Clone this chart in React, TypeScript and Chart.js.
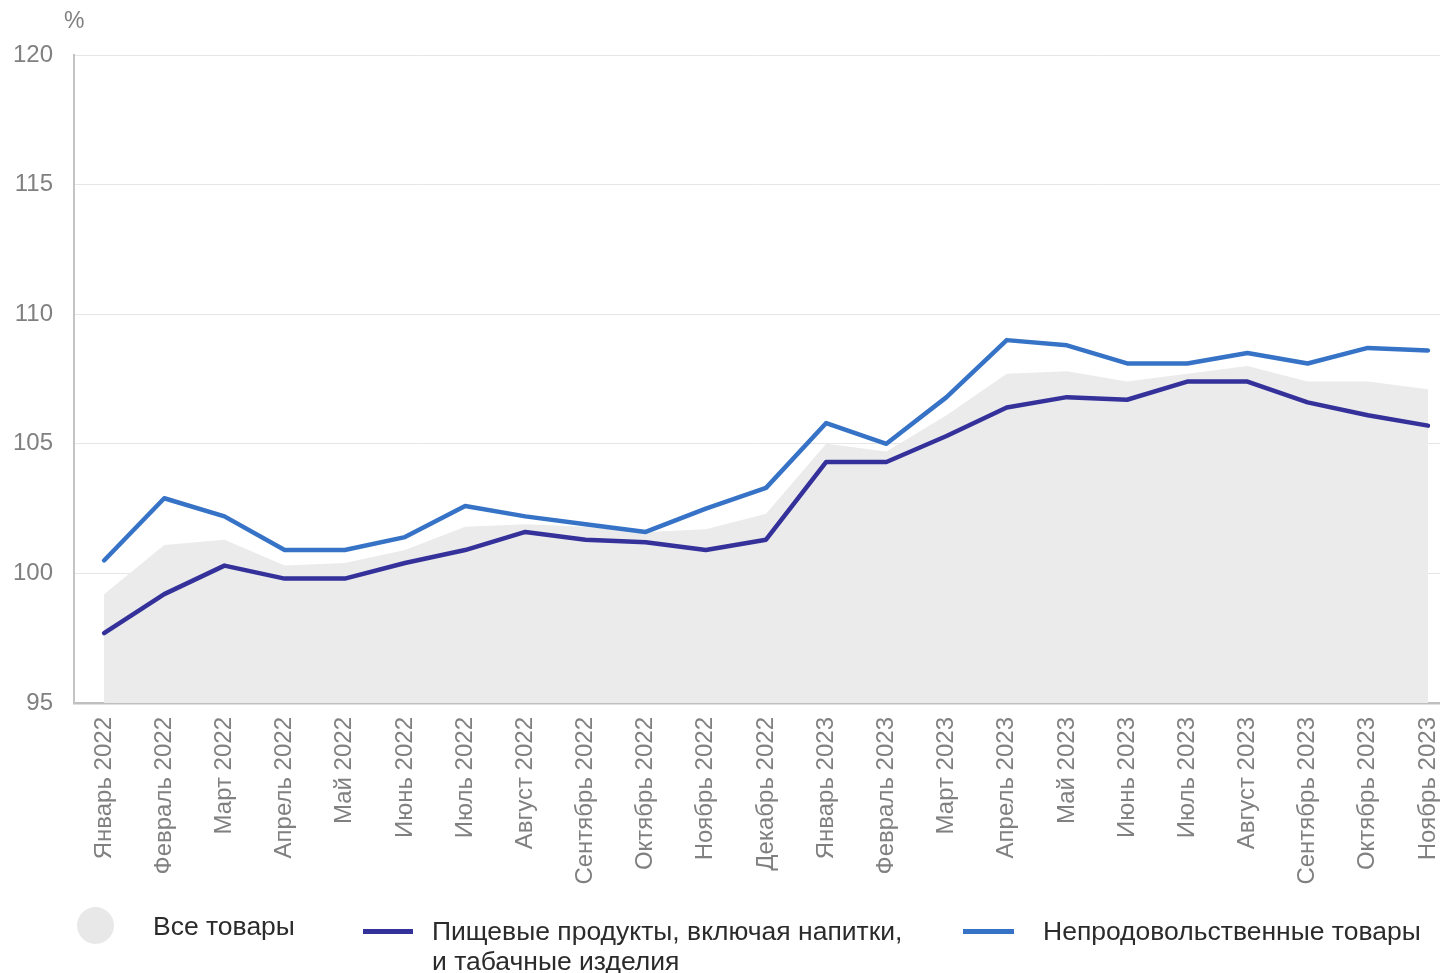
import React, { useEffect, useRef } from "react";
import { Chart, registerables } from "chart.js";

Chart.register(...registerables);

const months = [
  "Январь 2022", "Февраль 2022", "Март 2022", "Апрель 2022", "Май 2022", "Июнь 2022",
  "Июль 2022", "Август 2022", "Сентябрь 2022", "Октябрь 2022", "Ноябрь 2022", "Декабрь 2022",
  "Январь 2023", "Февраль 2023", "Март 2023", "Апрель 2023", "Май 2023", "Июнь 2023",
  "Июль 2023", "Август 2023", "Сентябрь 2023", "Октябрь 2023", "Ноябрь 2023",
];

const allGoods = [
  99.2, 101.1, 101.3, 100.3, 100.4, 100.9, 101.8, 101.9, 101.8, 101.6, 101.7, 102.3,
  105.0, 104.7, 106.1, 107.7, 107.8, 107.4, 107.7, 108.0, 107.4, 107.4, 107.1,
];

const food = [
  97.7, 99.2, 100.3, 99.8, 99.8, 100.4, 100.9, 101.6, 101.3, 101.2, 100.9, 101.3,
  104.3, 104.3, 105.3, 106.4, 106.8, 106.7, 107.4, 107.4, 106.6, 106.1, 105.7,
];

const nonFood = [
  100.5, 102.9, 102.2, 100.9, 100.9, 101.4, 102.6, 102.2, 101.9, 101.6, 102.5, 103.3,
  105.8, 105.0, 106.8, 109.0, 108.8, 108.1, 108.1, 108.5, 108.1, 108.7, 108.6,
];

const yTicks = [95, 100, 105, 110, 115, 120];

const legendLabels = [
  "Все товары",
  "Пищевые продукты, включая напитки,",
  "и табачные изделия",
  "Непродовольственные товары",
];

const FONT = "'Liberation Sans', Arial, sans-serif";
const GRAY_FILL = "#ebebeb";
const FOOD_COLOR = "#35319a";
const NONFOOD_COLOR = "#3673c6";

const toXY = (arr: number[]) => arr.map((v, i) => ({ x: i, y: v }));

export default function App() {
  const canvasRef = useRef<HTMLCanvasElement | null>(null);

  useEffect(() => {
    if (!canvasRef.current) return;
    const chart = new Chart(canvasRef.current, {
      type: "line",
      data: {
        datasets: [
          {
            label: legendLabels[3],
            data: toXY(nonFood),
            borderColor: NONFOOD_COLOR,
            borderWidth: 4.5,
            pointRadius: 0,
            fill: false,
            tension: 0,
            borderCapStyle: "round",
            borderJoinStyle: "round",
            order: 1,
          },
          {
            label: legendLabels[1],
            data: toXY(food),
            borderColor: FOOD_COLOR,
            borderWidth: 4.5,
            pointRadius: 0,
            fill: false,
            tension: 0,
            borderCapStyle: "round",
            borderJoinStyle: "round",
            order: 2,
          },
          {
            label: legendLabels[0],
            data: toXY(allGoods),
            borderColor: "rgba(0,0,0,0)",
            borderWidth: 0,
            backgroundColor: GRAY_FILL,
            pointRadius: 0,
            fill: "start",
            tension: 0,
            order: 3,
          },
        ],
      },
      options: {
        animation: false,
        responsive: false,
        maintainAspectRatio: false,
        layout: { padding: { top: 55, right: 0, left: 0, bottom: 0 } },
        plugins: {
          legend: { display: false },
          tooltip: { enabled: false },
        },
        scales: {
          x: {
            type: "linear",
            min: -0.5,
            max: 22.2,
            afterBuildTicks: (s: any) => {
              s.ticks = months.map((_, i) => ({ value: i }));
            },
            afterFit: (s: any) => {
              s.height = 973 - 703;
              s.paddingLeft = 0;
              s.paddingRight = 0;
            },
            grid: { display: false, drawTicks: false },
            border: { display: true, color: "#bfbfbf", width: 2.5 },
            ticks: {
              autoSkip: false,
              minRotation: 90,
              maxRotation: 90,
              padding: 14,
              color: "#808080",
              font: { family: FONT, size: 24 },
              callback: (v: any) => months[Math.round(Number(v))] ?? "",
            },
          },
          y: {
            min: 95,
            max: 120,
            afterBuildTicks: (s: any) => {
              s.ticks = yTicks.map((v) => ({ value: v }));
            },
            afterFit: (s: any) => {
              s.width = 74;
              s.paddingTop = 0;
              s.paddingBottom = 0;
            },
            grid: { color: "#e6e6e6", lineWidth: 1, drawTicks: false },
            border: { display: true, color: "#c4c4c4", width: 2 },
            ticks: {
              padding: 21,
              color: "#808080",
              font: { family: FONT, size: 24 },
            },
          },
        },
      },
    });
    return () => chart.destroy();
  }, []);

  const textStyle: React.CSSProperties = {
    position: "absolute",
    fontFamily: FONT,
    fontSize: 26.5,
    color: "#2b2b2b",
    lineHeight: "30px",
    whiteSpace: "nowrap",
  };

  return (
    <div
      style={{
        position: "absolute",
        left: 0,
        top: 0,
        width: 1440,
        height: 973,
        background: "#fff",
        overflow: "hidden",
      }}
    >
      <canvas
        ref={canvasRef}
        width={1440}
        height={973}
        style={{ position: "absolute", left: 0, top: 0, width: 1440, height: 973 }}
      />
      <div
        style={{
          position: "absolute",
          left: 64,
          top: 7,
          fontFamily: FONT,
          fontSize: 23,
          color: "#808080",
        }}
      >
        %
      </div>
      <div
        style={{
          position: "absolute",
          left: 77,
          top: 907,
          width: 37,
          height: 37,
          borderRadius: "50%",
          background: "#e8e8e8",
        }}
      />
      <div style={{ ...textStyle, left: 153, top: 911 }}>{legendLabels[0]}</div>
      <div
        style={{
          position: "absolute",
          left: 363,
          top: 929,
          width: 50,
          height: 5,
          background: FOOD_COLOR,
        }}
      />
      <div style={{ ...textStyle, left: 432, top: 916 }}>
        {legendLabels[1]}
        <br />
        {legendLabels[2]}
      </div>
      <div
        style={{
          position: "absolute",
          left: 963,
          top: 929,
          width: 51,
          height: 5,
          background: NONFOOD_COLOR,
        }}
      />
      <div style={{ ...textStyle, left: 1043, top: 916 }}>{legendLabels[3]}</div>
    </div>
  );
}
